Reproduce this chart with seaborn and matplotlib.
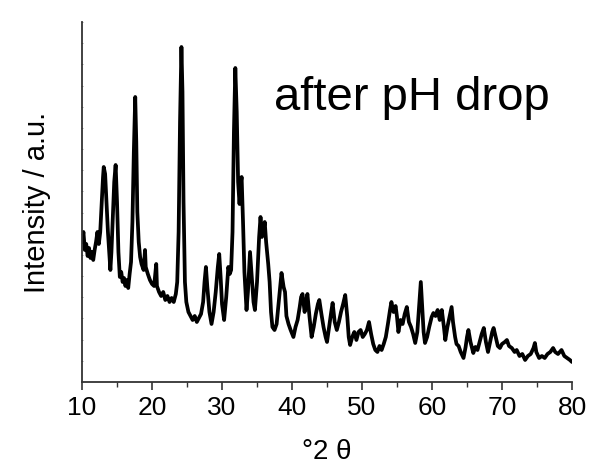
import matplotlib
matplotlib.use('Agg')
import matplotlib.pyplot as plt
import numpy as np
import pandas as pd
import seaborn as sns

# XRD pattern (2theta in degrees, intensity in arbitrary units)
two_theta = [
    10.0, 10.2, 10.4, 10.6, 10.8, 11.0, 11.2, 11.4, 11.6, 11.8, 12.0, 12.2, 12.4, 12.6,
    12.8, 13.0, 13.1, 13.3, 13.5, 13.7, 13.9, 14.05, 14.2, 14.4, 14.6, 14.8, 15.0, 15.2,
    15.4, 15.6, 15.8, 16.0, 16.2, 16.4, 16.6, 16.8, 17.0, 17.2, 17.4, 17.6, 17.75, 17.9,
    18.1, 18.3, 18.5, 18.8, 19.0, 19.1, 19.4, 19.7, 20.0, 20.3, 20.6, 20.7, 21.0, 21.3,
    21.6, 21.9, 22.2, 22.5, 22.8, 23.1, 23.4, 23.6, 23.8, 24.0, 24.2, 24.35, 24.5, 24.7,
    24.9, 25.2, 25.5, 25.8, 26.1, 26.4, 26.7, 27.0, 27.3, 27.5, 27.7, 27.9, 28.2, 28.5,
    28.8, 29.1, 29.4, 29.6, 29.8, 30.0, 30.3, 30.6, 30.9, 31.1, 31.3, 31.5, 31.7, 31.9,
    32.1, 32.3, 32.5, 32.7, 32.8, 33.0, 33.2, 33.5, 33.7, 34.0, 34.2, 34.5, 34.7, 35.0,
    35.3, 35.5, 35.7, 35.9, 36.1, 36.3, 36.6, 36.8, 37.0, 37.2, 37.5, 37.8, 38.1, 38.5,
    38.8, 39.0, 39.2, 39.5, 39.8, 40.2, 40.5, 40.8, 41.1, 41.3, 41.5, 41.8, 42.0, 42.2,
    42.5, 42.8, 43.1, 43.4, 43.7, 43.9, 44.2, 44.5, 44.8, 45.0, 45.3, 45.6, 45.8, 46.1,
    46.4, 46.7, 47.0, 47.3, 47.6, 47.9, 48.1, 48.3, 48.6, 48.9, 49.2, 49.5, 49.8, 50.1,
    50.4, 50.7, 51.0, 51.3, 51.6, 51.9, 52.2, 52.5, 52.8, 53.1, 53.4, 53.7, 54.0, 54.2,
    54.5, 54.8, 55.0, 55.2, 55.5, 55.8, 56.1, 56.4, 56.7, 57.0, 57.3, 57.6, 57.9, 58.2,
    58.4, 58.6, 58.8, 59.0, 59.3, 59.6, 59.95, 60.2, 60.5, 60.8, 61.1, 61.4, 61.7, 61.9,
    62.2, 62.5, 62.8, 63.0, 63.3, 63.5, 63.8, 64.1, 64.5, 64.8, 65.0, 65.2, 65.5, 65.9,
    66.2, 66.5, 66.8, 67.1, 67.4, 67.7, 68.0, 68.3, 68.6, 68.8, 69.1, 69.4, 69.7, 70.0,
    70.4, 70.7, 71.0, 71.4, 71.8, 72.1, 72.5, 72.9, 73.3, 73.7, 74.1, 74.5, 74.7, 74.9,
    75.3, 75.7, 76.1, 76.5, 76.9, 77.3, 77.6, 78.0, 78.5, 78.9, 79.3, 79.7, 80.0,
]
intensity = [
    140, 150, 132, 138, 126, 134, 124, 130, 122, 132, 140, 150, 138, 150,
    178, 205, 215, 208, 180, 150, 128, 112, 130, 165, 200, 217, 180, 130,
    105, 110, 100, 104, 96, 102, 94, 108, 120, 160, 230, 285, 240, 170,
    140, 125, 118, 112, 132, 115, 108, 102, 98, 96, 118, 96, 90, 86,
    90, 82, 86, 80, 84, 80, 88, 100, 150, 260, 335, 290, 180, 100,
    80, 70, 66, 62, 66, 60, 64, 68, 80, 100, 115, 95, 70, 58,
    70, 90, 115, 128, 105, 78, 62, 85, 115, 108, 112, 150, 250, 314,
    270, 200, 178, 200, 205, 160, 110, 72, 90, 130, 110, 80, 72, 100,
    145, 165, 145, 150, 160, 140, 118, 100, 70, 55, 52, 58, 80, 109,
    95, 90, 66, 58, 52, 45, 55, 62, 75, 85, 88, 70, 80, 88,
    65, 45, 55, 68, 78, 82, 68, 55, 45, 40, 55, 70, 79, 60,
    52, 60, 70, 78, 87, 65, 45, 37, 45, 50, 42, 50, 52, 45,
    48, 52, 60, 48, 38, 32, 30, 36, 32, 38, 45, 58, 72, 80,
    70, 76, 65, 50, 62, 58, 68, 75, 60, 55, 48, 39, 50, 80,
    100, 75, 50, 39, 45, 55, 65, 69, 66, 72, 62, 72, 55, 42,
    55, 65, 75, 60, 45, 38, 36, 30, 24, 35, 45, 52, 40, 29,
    35, 32, 40, 48, 54, 40, 30, 40, 50, 54, 45, 36, 34, 38,
    40, 42, 36, 34, 30, 32, 26, 28, 22, 26, 28, 34, 39, 30,
    24, 26, 24, 28, 30, 34, 30, 28, 32, 26, 24, 22, 20,
]
x_ticks = [10, 20, 30, 40, 50, 60, 70, 80]
sample_label = 'after pH drop'

df = pd.DataFrame({'two_theta': two_theta, 'intensity': intensity})

sns.set_theme(style='white')
plt.rcParams['font.family'] = ['Liberation Sans', 'DejaVu Sans']
plt.rcParams['text.color'] = 'black'
plt.rcParams['axes.labelcolor'] = 'black'
plt.rcParams['xtick.color'] = 'black'

fig = plt.figure(figsize=(6.14, 4.74), dpi=100)
ax = fig.add_axes([0.1336, 0.1941, 0.798, 0.7595])

sns.lineplot(data=df, x='two_theta', y='intensity', color='black', linewidth=2.7,
             sort=False, ax=ax)

ax.set_xlim(10, 80)
ax.set_ylim(0, 360)
ax.set_xticks(x_ticks)
ax.set_xticks(np.arange(15, 80, 10), minor=True)
ax.set_yticks(np.linspace(0, 360, 18))
ax.set_yticklabels([])

for side in ['top', 'right']:
    ax.spines[side].set_visible(False)
for side in ['left', 'bottom']:
    ax.spines[side].set_color('#333333')
    ax.spines[side].set_linewidth(1.3)

ax.tick_params(axis='x', which='major', direction='out', length=6, width=1.2,
               color='#333333', labelcolor='black', labelsize=19, pad=4, bottom=True)
ax.tick_params(axis='x', which='minor', direction='out', length=3.5, width=1.0,
               color='#333333', bottom=True)
ax.tick_params(axis='y', which='major', direction='inout', length=2, width=0.6,
               color='#888888', left=True)

ax.set_xlabel('°2 θ', fontsize=20, labelpad=14)
ax.set_ylabel('Intensity / a.u.', fontsize=21, labelpad=18)

ax.text(0.673, 0.79, sample_label, transform=ax.transAxes, fontsize=34,
        ha='center', va='center')

fig.savefig('out.png', dpi=100)
